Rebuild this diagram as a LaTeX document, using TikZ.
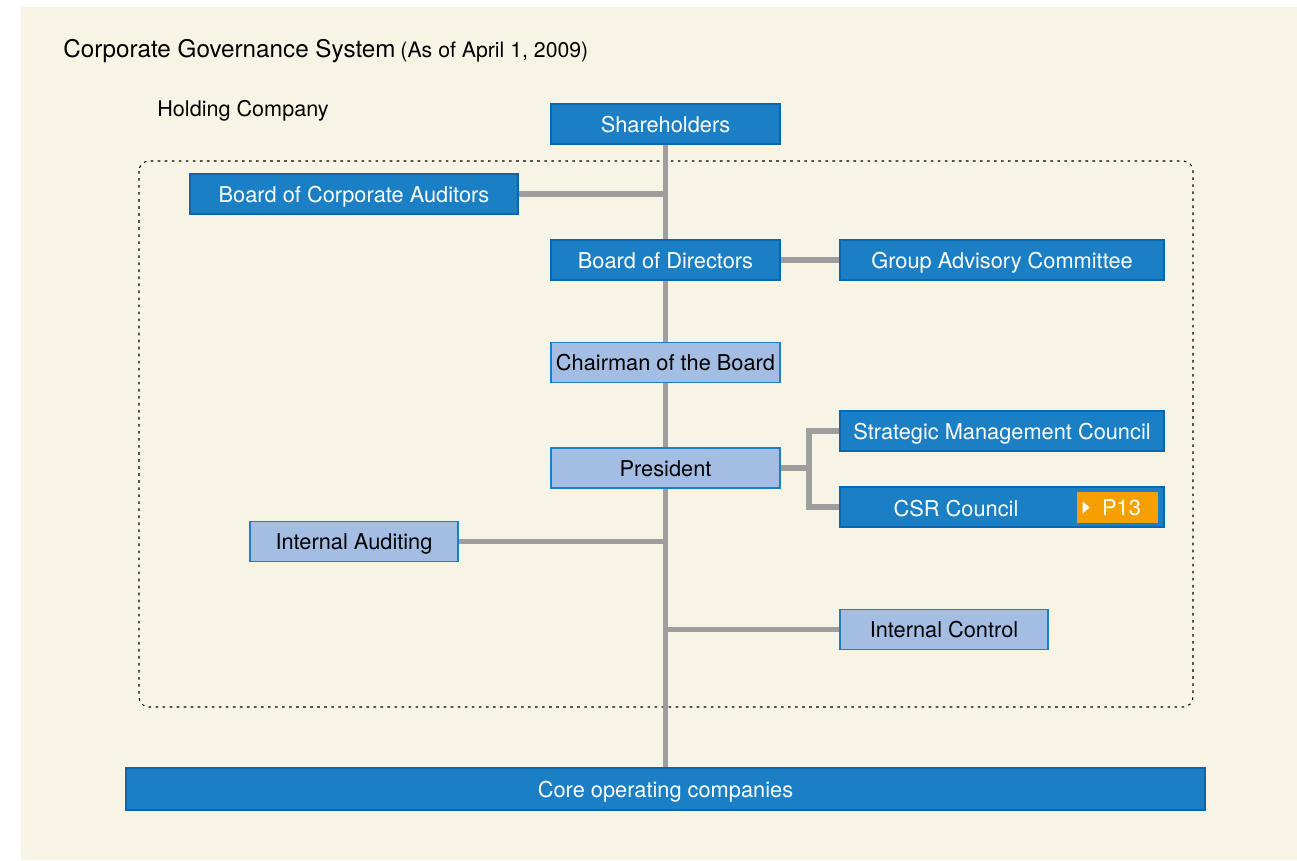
\documentclass[tikz,border=0pt]{standalone}
\usepackage{fontspec}
\setmainfont{TeX Gyre Heros}
\definecolor{govblue}{RGB}{26,127,196}
\definecolor{govedge}{RGB}{8,102,178}
\definecolor{govlight}{RGB}{163,189,227}
\definecolor{govline}{RGB}{158,158,158}
\definecolor{govback}{RGB}{247,244,230}
\definecolor{govorange}{RGB}{245,160,0}
\tikzset{orgfont/.style={font=\fontsize{12.4}{15}\selectfont, text height=10.2pt, text depth=0.8pt},
    orgbox/.style={orgfont, draw=govedge, line width=0.8pt, fill=govblue, text=white,
    minimum height=0.8cm, inner sep=0pt},
    lightbox/.style={orgbox, draw=govblue, fill=govlight, text=black},
    link/.style={draw=govline, line width=3pt},
    }

\begin{document}
\begin{tikzpicture}[x=0.02cm, y=-0.02cm]
	\useasboundingbox (0,0) rectangle (1297,860);
	\fill[govback] (21,7) rectangle (1297,860);
	\draw[dash pattern=on 1.5pt off 2.5pt, rounded corners=0.2cm, line width=0.6pt] (139,161) rectangle (1193,707);%holding company

	\node[anchor=base west, inner sep=0pt] (title) at (63,57.3) {{\fontsize{13.8}{16}\selectfont Corporate Governance System} {\fontsize{12.1}{14}\selectfont (As of April 1, 2009)}};
	\node[anchor=base west, inner sep=0pt, font=\fontsize{12.3}{14}\selectfont] (hold) at (157,116.5) {Holding Company};

	\node[orgbox, minimum width=4.58cm] (share) at (665.5,124) {Shareholders};
	\node[orgbox, minimum width=6.56cm] (audit) at (354,194) {Board of Corporate Auditors};
	\node[orgbox, minimum width=4.58cm] (board) at (665.5,260) {Board of Directors};
	\node[orgbox, minimum width=6.48cm] (advis) at (1002,260) {Group Advisory Committee};
	\node[lightbox, minimum width=4.58cm] (chair) at (665.5,362.5) {Chairman of the Board};
	\node[orgbox, minimum width=6.48cm] (strat) at (1002,431) {Strategic Management Council};
	\node[lightbox, minimum width=4.58cm] (pres) at (665.5,468) {President};
	\node[orgbox, minimum width=6.48cm] (csr) at (1002,507) {};
	\node[orgfont, text=white, inner sep=0pt] (csrtext) at (956,508) {CSR Council};
	\node[orgfont, fill=govorange, minimum width=1.62cm, minimum height=0.62cm, inner sep=0pt,
		text=white] (p13) at (1117.5,507.5) {\hspace{0.16cm}P13};
	\fill[white] (p13.west) ++(6,-6) -- ++(7,6) -- ++(-7,6) -- cycle;
	\node[lightbox, minimum width=4.16cm] (inaud) at (354,541.5) {Internal Auditing};
	\node[lightbox, minimum width=4.16cm] (incon) at (944,629.5) {Internal Control};
	\node[orgbox, minimum width=21.58cm, minimum height=0.84cm] (core) at (665.5,789) {Core operating companies};

	\draw[link] (share) -- (board);
	\draw[link] (board) -- (chair);
	\draw[link] (chair) -- (pres);
	\draw[link] (pres) -- (core);%trunk
	\draw[link] (audit) -- (audit -| share);
	\draw[link] (board) -- (advis);
	\coordinate (fork) at (809,468);
	\draw[link] (pres) -- (fork);
	\draw[link] (strat.west) -| (fork) |- (csr.west);%councils
	\draw[link] (inaud) -- (inaud -| share);
	\draw[link] (incon) -- (incon -| share);
\end{tikzpicture}
\end{document}
